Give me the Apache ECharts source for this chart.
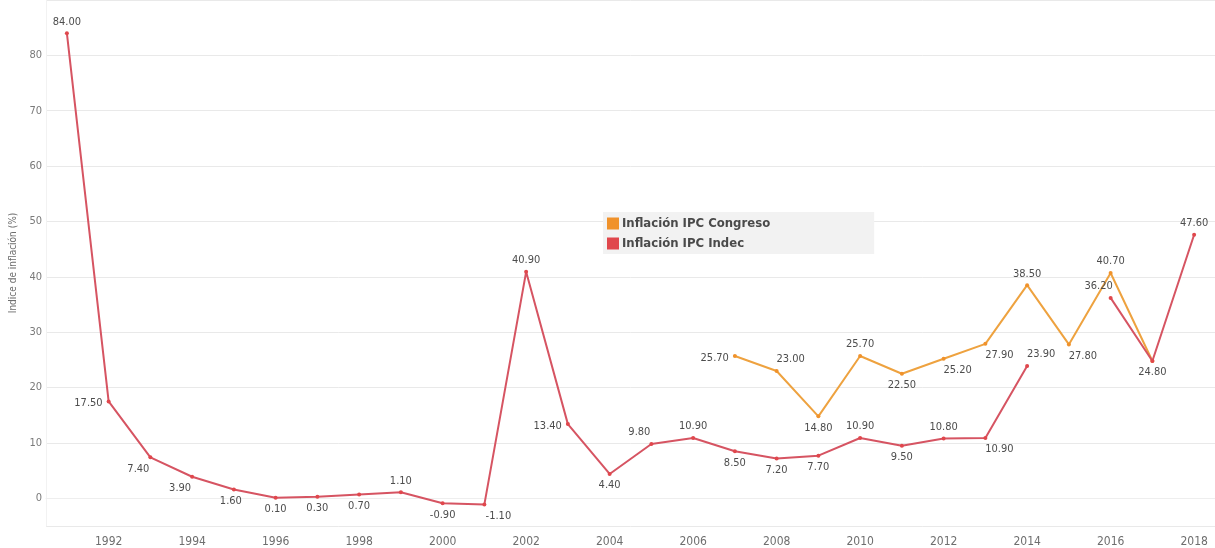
<!DOCTYPE html>
<html>
<head>
<meta charset="utf-8">
<title>Inflación IPC</title>
<script src="https://cdn.jsdelivr.net/npm/echarts@6/dist/echarts.min.js"></script>
<style>
  html, body { margin: 0; padding: 0; background: #ffffff; }
  #chart { width: 1215px; height: 548px; }
</style>
</head>
<body>
<div id="chart"></div>
<script>
// Years on the category axis
const years = [1991, 1992, 1993, 1994, 1995, 1996, 1997, 1998, 1999, 2000,
  2001, 2002, 2003, 2004, 2005, 2006, 2007, 2008, 2009, 2010,
  2011, 2012, 2013, 2014, 2015, 2016, 2017, 2018];

// Annual inflation (%) — INDEC (no value published for 2015)
const indec = [84.0, 17.5, 7.4, 3.9, 1.6, 0.1, 0.3, 0.7, 1.1, -0.9,
  -1.1, 40.9, 13.4, 4.4, 9.8, 10.9, 8.5, 7.2, 7.7, 10.9,
  9.5, 10.8, 10.9, 23.9, null, 36.2, 24.8, 47.6];

// Annual inflation (%) — IPC Congreso (2007–2017)
const congreso = [null, null, null, null, null, null, null, null, null, null,
  null, null, null, null, null, null, 25.7, 23.0, 14.8, 25.7,
  22.5, 25.2, 27.9, 38.5, 27.8, 40.7, 24.8, null];

const seriesNames = ['Inflación IPC Congreso', 'Inflación IPC Indec'];
const yAxisTitle = 'Indice de inflación (%)';

// Where each value label sits relative to its point
const indecLabelAt = ['top', 'left', 'bottomLeft', 'bottomLeft', 'bottomLeftSmall', 'bottom', 'bottom', 'bottom', 'top', 'bottom',
  'bottomRight', 'top', 'left', 'bottom', 'topLeft', 'top', 'bottom', 'bottom', 'bottom', 'top',
  'bottom', 'top', 'bottomRight', 'topRight', null, 'topLeft', 'bottom', 'top'];
const congresoLabelAt = [null, null, null, null, null, null, null, null, null, null,
  null, null, null, null, null, null, 'left', 'topRight', 'bottom', 'top',
  'bottom', 'bottomRight', 'bottomRight', 'top', 'bottomRight', 'top', 'none', null];

const placements = {
  top:             { position: 'top', offset: [0, 0] },
  bottom:          { position: 'bottom', offset: [0, 0] },
  left:            { position: 'left', offset: [0, 2] },
  right:           { position: 'right', offset: [0, 0] },
  topLeft:         { position: 'top', offset: [-12, 0] },
  topRight:        { position: 'top', offset: [14, 0] },
  bottomLeft:      { position: 'bottom', offset: [-12, 0] },
  bottomLeftSmall: { position: 'bottom', offset: [-3, 0] },
  bottomRight:     { position: 'bottom', offset: [14, 0] }
};

const FONT = '"DejaVu Sans Condensed", "DejaVu Sans", sans-serif';

function withLabels(values, where) {
  return values.map((v, i) => {
    if (v === null) return null;
    const key = where[i];
    if (key === 'none') return { value: v, label: { show: false } };
    const p = placements[key] || placements.top;
    return { value: v, label: { position: p.position, offset: p.offset } };
  });
}

const chart = echarts.init(document.getElementById('chart'), null, { renderer: 'canvas' });

const labelStyle = {
  show: true,
  fontFamily: FONT,
  fontSize: 11,
  color: '#4d4d4d',
  distance: 4,
  formatter: p => Number(p.value).toFixed(2)
};

chart.setOption({
  backgroundColor: '#ffffff',
  animation: false,
  textStyle: { fontFamily: FONT },
  grid: { left: 46, right: -2, top: -2, bottom: 22, containLabel: false },
  legend: {
    data: seriesNames,
    orient: 'vertical',
    left: 603,
    top: 212,
    itemWidth: 12,
    itemHeight: 12,
    itemGap: 7,
    icon: 'rect',
    padding: [5, 104, 4, 4],
    backgroundColor: '#f2f2f2',
    textStyle: { fontFamily: FONT, fontSize: 13, fontWeight: 'bold', color: '#4a4a4a', padding: [0, 0, 0, -2] }
  },
  xAxis: {
    type: 'category',
    data: years,
    boundaryGap: true,
    axisLine: { show: true, lineStyle: { color: '#eeeeee' } },
    axisTick: { show: false },
    splitLine: { show: false },
    axisLabel: {
      interval: (idx, val) => Number(val) % 2 === 0,
      fontFamily: FONT,
      fontSize: 12,
      color: '#6e6e6e',
      margin: 10
    }
  },
  yAxis: {
    type: 'value',
    min: -5,
    max: 90,
    splitNumber: 9,
    name: yAxisTitle,
    nameLocation: 'middle',
    nameGap: 28,
    nameTextStyle: { fontFamily: FONT, fontSize: 10, color: '#6e6e6e' },
    axisLine: { show: true, lineStyle: { color: '#f2f2f2' } },
    axisTick: { show: false },
    splitLine: { show: true, lineStyle: { color: '#e9e9e9', width: 1 } },
    axisLabel: {
      showMinLabel: false,
      showMaxLabel: false,
      fontFamily: FONT,
      fontSize: 11,
      color: '#7a7a7a',
      margin: 4
    }
  },
  series: [
    {
      name: seriesNames[0],
      type: 'line',
      data: withLabels(congreso, congresoLabelAt),
      connectNulls: false,
      symbol: 'circle',
      symbolSize: 4,
      itemStyle: { color: '#f0922b' },
      lineStyle: { color: '#eea23f', width: 2 },
      label: labelStyle,
      z: 2
    },
    {
      name: seriesNames[1],
      type: 'line',
      data: withLabels(indec, indecLabelAt),
      connectNulls: false,
      symbol: 'circle',
      symbolSize: 4,
      itemStyle: { color: '#e0474c' },
      lineStyle: { color: '#d65462', width: 2 },
      label: labelStyle,
      z: 3
    }
  ]
});
</script>
</body>
</html>
